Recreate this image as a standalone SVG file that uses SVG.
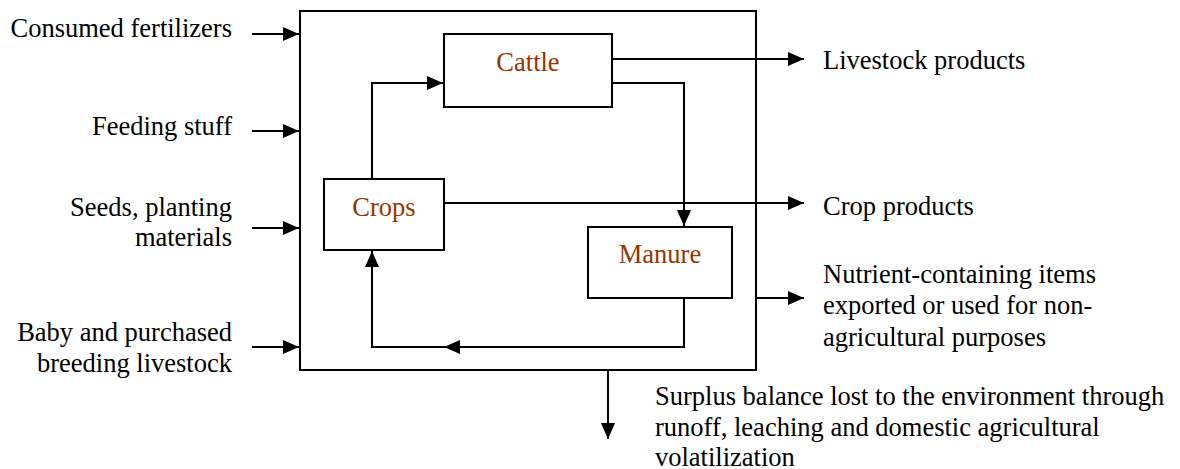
<svg xmlns="http://www.w3.org/2000/svg" width="1180" height="469" viewBox="0 0 1180 469">
<style>
.box{fill:#fff;stroke:#000;stroke-width:2}
.ln{fill:none;stroke:#000;stroke-width:2}
.t{font-family:"Liberation Serif","Times New Roman",serif;font-size:26.5px;fill:#000}
.r{text-anchor:end}
.n{font-family:"Liberation Serif","Times New Roman",serif;font-size:26.5px;fill:#993300;text-anchor:middle}
</style>
<defs>
<marker id="ah" markerWidth="16" markerHeight="14" refX="16" refY="7" orient="auto" markerUnits="userSpaceOnUse">
<path d="M0,0 L16,7 L0,14 Z" fill="#000"/>
</marker>
</defs>
<g id="system"><rect class="box" x="300" y="11" width="456" height="359"/></g>
<g id="cattle"><rect class="box" x="444" y="34" width="168" height="73"/><text class="n" x="528" y="71">Cattle</text></g>
<g id="crops"><rect class="box" x="324" y="179" width="120" height="71"/><text class="n" x="384" y="216">Crops</text></g>
<g id="manure"><rect class="box" x="588" y="227" width="144" height="71"/><text class="n" x="660" y="263">Manure</text></g>
<g id="connectors">
<line class="ln" x1="252" y1="34" x2="299" y2="34" marker-end="url(#ah)"/>
<line class="ln" x1="252" y1="131" x2="299" y2="131" marker-end="url(#ah)"/>
<line class="ln" x1="252" y1="228" x2="299" y2="228" marker-end="url(#ah)"/>
<line class="ln" x1="252" y1="347" x2="299" y2="347" marker-end="url(#ah)"/>
<polyline class="ln" points="372,179 372,83 443,83" marker-end="url(#ah)"/>
<line class="ln" x1="612" y1="59" x2="804" y2="59" marker-end="url(#ah)"/>
<polyline class="ln" points="612,83 684,83 684,226" marker-end="url(#ah)"/>
<line class="ln" x1="444" y1="203" x2="804" y2="203" marker-end="url(#ah)"/>
<line class="ln" x1="756" y1="298" x2="804" y2="298" marker-end="url(#ah)"/>
<polyline class="ln" points="684,298 684,347 444,347" marker-end="url(#ah)"/>
<polyline class="ln" points="445,347 372,347 372,251" marker-end="url(#ah)"/>
<line class="ln" x1="608" y1="370" x2="608" y2="439" marker-end="url(#ah)"/>
</g>
<g id="labels">
<text class="t r" x="232" y="37">Consumed fertilizers</text>
<text class="t r" x="232" y="135">Feeding stuff</text>
<text class="t r" x="232" y="216">Seeds, planting</text>
<text class="t r" x="232" y="246">materials</text>
<text class="t r" x="232" y="341">Baby and purchased</text>
<text class="t r" x="232" y="372">breeding livestock</text>
<text class="t" x="823" y="69">Livestock products</text>
<text class="t" x="823" y="215">Crop products</text>
<text class="t" x="823" y="283">Nutrient-containing items</text>
<text class="t" x="823" y="314">exported or used for non-</text>
<text class="t" x="823" y="346">agricultural purposes</text>
<text class="t" x="655" y="405">Surplus balance lost to the environment through</text>
<text class="t" x="655" y="436">runoff, leaching and domestic agricultural</text>
<text class="t" x="655" y="466">volatilization</text>
</g>
</svg>
